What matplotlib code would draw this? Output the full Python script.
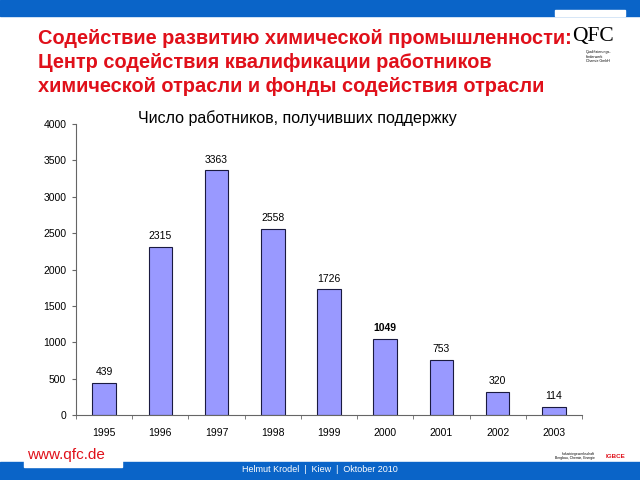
import matplotlib
matplotlib.use("Agg")
import matplotlib.pyplot as plt
from matplotlib.patches import Rectangle
import numpy as np

years = ["1995", "1996", "1997", "1998", "1999", "2000", "2001", "2002", "2003"]
workers = [439, 2315, 3363, 2558, 1726, 1049, 753, 320, 114]
y_ticks = [0, 500, 1000, 1500, 2000, 2500, 3000, 3500, 4000]

title_lines = ["Содействие развитию химической промышленности:",
               "Центр содействия квалификации работников",
               "химической отрасли и фонды содействия отрасли"]
chart_title = "Число работников, получивших поддержку"
footer = "Helmut Krodel  |  Kiew  |  Oktober 2010"

plt.rcParams['font.family'] = ['Liberation Sans', 'DejaVu Sans']

fig = plt.figure(figsize=(6.4, 4.8), dpi=100)
W, H = 640, 480
blue = "#0a64c8"
red = "#e0101a"

def px(x, y):
    return x / W, 1 - y / H

# top band
fig.patches.append(Rectangle((0, 1 - 16 / H), 1, 16 / H, transform=fig.transFigure,
                             color=blue, zorder=0))
fig.patches.append(Rectangle((555 / W, 1 - 16 / H), 70 / W, 6 / H, transform=fig.transFigure,
                             color="white", zorder=0.5))
# bottom band
fig.patches.append(Rectangle((0, 0), 1, 18 / H, transform=fig.transFigure,
                             color=blue, zorder=0))
fig.patches.append(Rectangle((24 / W, 13 / H), 98 / W, 24 / H, transform=fig.transFigure,
                             color="white", zorder=0.5))

# title
for i, line in enumerate(title_lines):
    x, y = px(38, 38 + i * 24.5)
    fig.text(x, y, line, color=red, fontsize=14.4, fontweight='bold',
             ha='left', va='center', zorder=3)

# QFC logo (text approximation)
x, y = px(572, 37)
fig.text(x, y, "QFC", color="black", fontsize=15.5, family=['Liberation Serif'],
         ha='left', va='center', zorder=2)
x, y = px(586, 50)
fig.text(x, y, "Qualifizierungs-\nförderwerk\nChemie GmbH", color="black", fontsize=2.6,
         ha='left', va='top', linespacing=1.2, zorder=2)

# footer
x, y = px(27, 455)
fig.text(x, y, "www.qfc.de", color=red, fontsize=11, ha='left', va='center', zorder=3)
x, y = px(320, 470)
fig.text(x, y, footer, color="white", fontsize=6.5, ha='center', va='center', zorder=3)
x, y = px(595, 456)
fig.text(x, y, "Industriegewerkschaft\nBergbau, Chemie, Energie", color="black",
         fontsize=2.4, ha='right', va='center', zorder=3)
x, y = px(616, 457)
fig.text(x, y, "IGBCE", color=red, fontsize=4.5, fontweight='bold', ha='center',
         va='center', zorder=3)

# chart
l, b = 76 / W, 1 - 415 / H
ax = fig.add_axes([l, b, 582 / W - l, (415 - 124) / H])
xpos = np.arange(len(years))
ax.bar(xpos, workers, width=0.42, color="#9999ff", edgecolor="#1a1a40",
       linewidth=0.8, zorder=2)
for xi, v in zip(xpos, workers):
    ax.text(xi, v + 80, str(v), ha='center', va='bottom', fontsize=7.5,
            fontweight='bold' if v == 1049 else 'normal')

ax.set_xlim(-0.5, len(years) - 0.5)
ax.set_ylim(0, 4000)
ax.set_yticks(y_ticks)
ax.set_yticklabels([str(t) for t in y_ticks], fontsize=7.5)
ax.set_xticks(xpos)
ax.set_xticklabels(years, fontsize=7.5)
ax.tick_params(axis='x', which='major', length=0, pad=9)
ax.set_xticks(np.arange(-0.5, len(years), 1), minor=True)
ax.tick_params(axis='x', which='minor', length=3, direction='out', color="#666666")
ax.tick_params(axis='y', length=3, direction='out', color="#666666", pad=4)
for s in ['top', 'right']:
    ax.spines[s].set_visible(False)
ax.spines['left'].set_color("#666666")
ax.spines['bottom'].set_color("#666666")
ax.set_facecolor("white")

x, y = px(297, 118)
fig.text(x, y, chart_title, fontsize=11.5, ha='center', va='center', color="black")

fig.savefig("out.png", dpi=100)
